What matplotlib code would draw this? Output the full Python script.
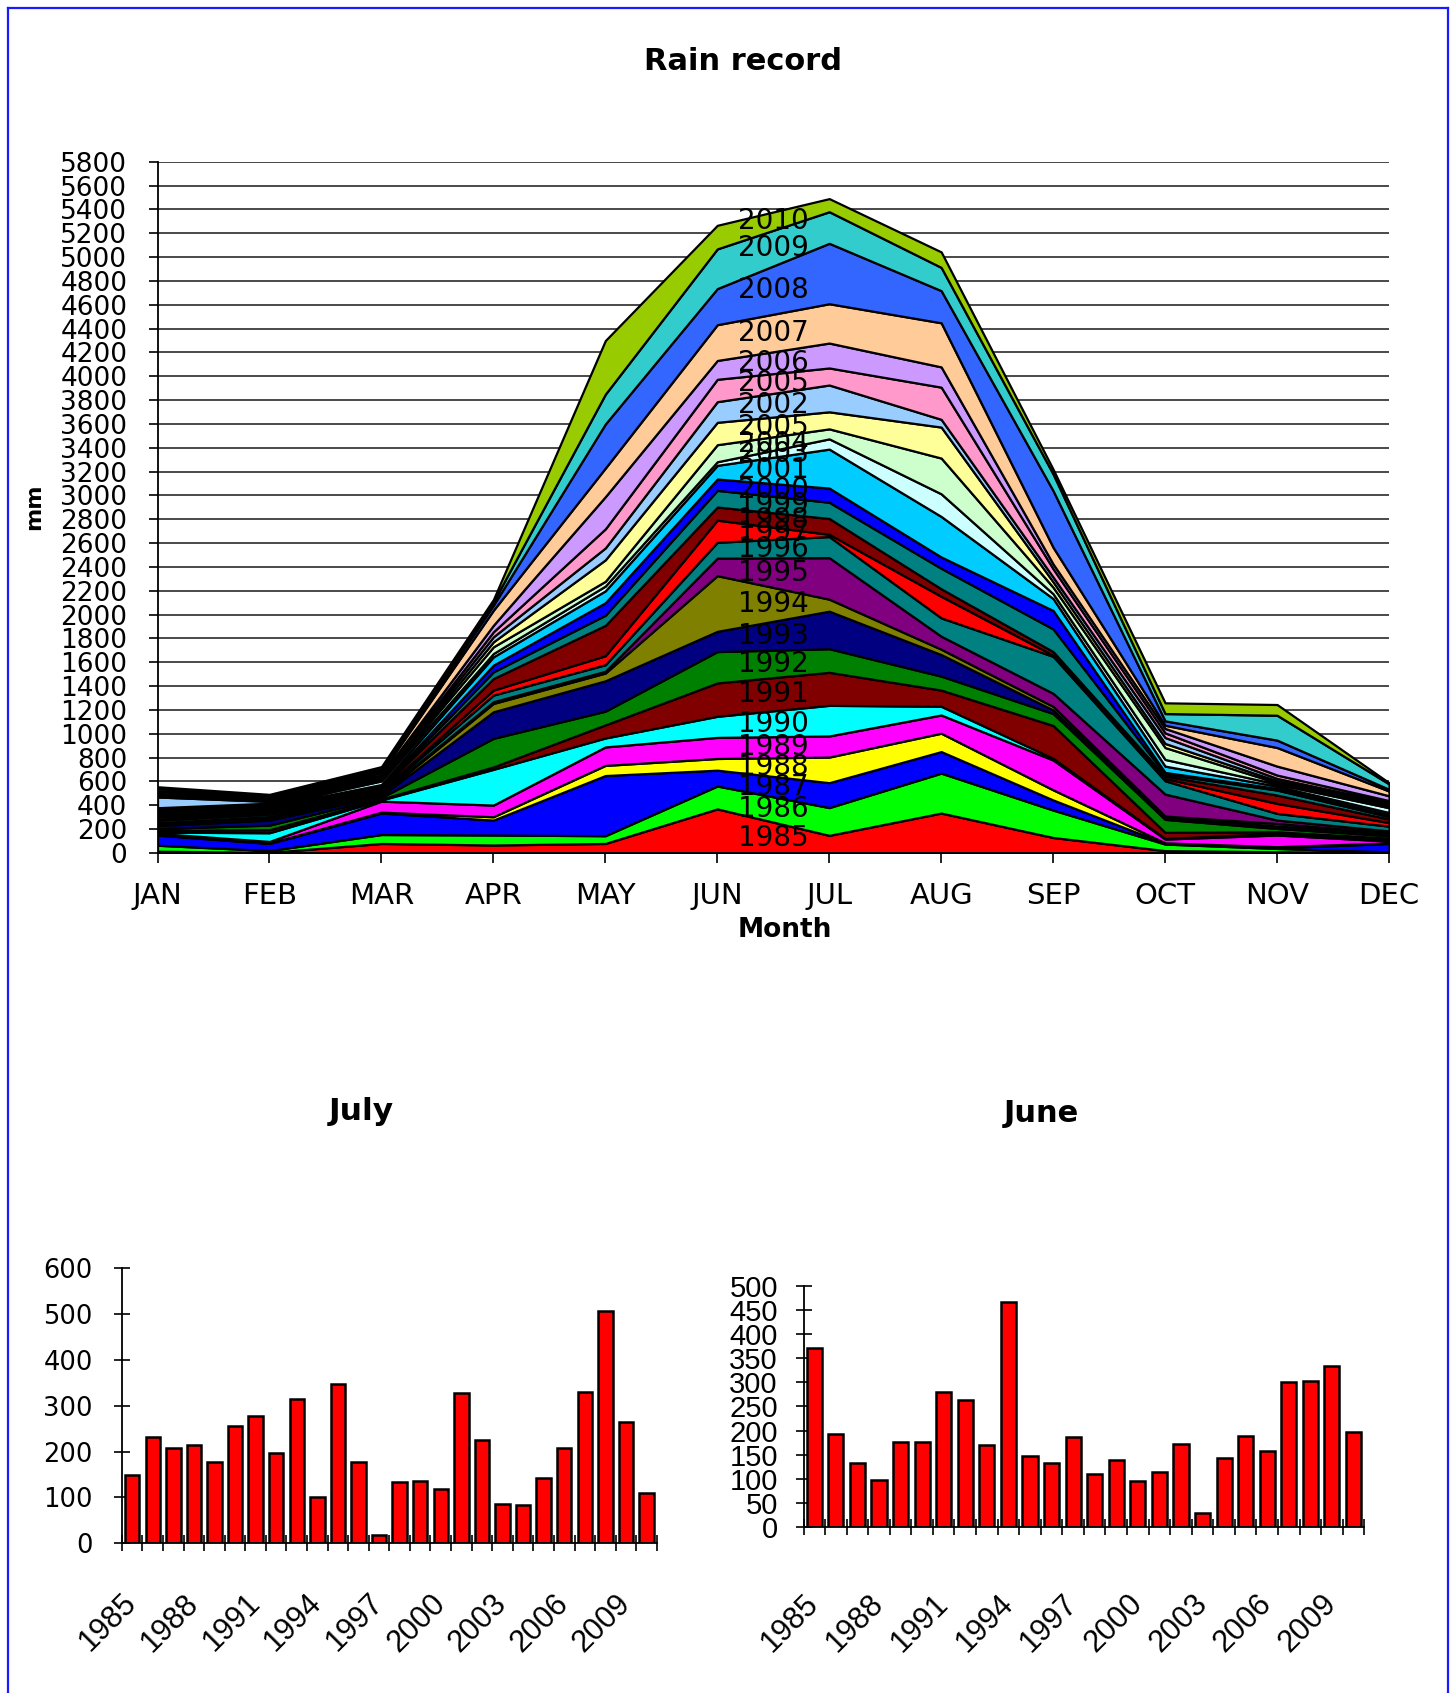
import matplotlib
matplotlib.use('Agg')
import matplotlib.pyplot as plt
import numpy as np
from matplotlib.lines import Line2D

# ---------------- data ----------------
months = ['JAN', 'FEB', 'MAR', 'APR', 'MAY', 'JUN', 'JUL', 'AUG', 'SEP', 'OCT', 'NOV', 'DEC']

series_labels = ['1985', '1986', '1987', '1988', '1989', '1990', '1991', '1992', '1993',
                 '1994', '1995', '1996', '1997', '1998', '1999', '2000', '2001', '2003',
                 '2004', '2005', '2002', '2005', '2006', '2007', '2008', '2009', '2010']

series_colors = ['#FF0000', '#00FF00', '#0000FF', '#FFFF00', '#FF00FF', '#00FFFF', '#800000',
                 '#008000', '#000080', '#808000', '#800080', '#008080', '#FF0000', '#800000',
                 '#008080', '#0000FF', '#00CCFF', '#CCFFFF', '#CCFFCC', '#FFFF99', '#99CCFF',
                 '#FF99CC', '#CC99FF', '#FFCC99', '#3366FF', '#33CCCC', '#99CC00']

# monthly rain (mm) of each stacked series, in series_labels order
jan = [15, 50, 85, 5, 10, 10, 15, 15, 25, 10, 15, 20, 10, 20, 15, 20, 10, 10, 10, 10, 90, 10, 10, 10, 20, 20, 16]
feb = [5, 15, 60, 3, 14, 73, 25, 39, 42, 15, 15, 20, 10, 15, 15, 12, 10, 10, 10, 10, 15, 10, 10, 10, 10, 10, 9]
mar = [80, 75, 180, 8, 92, 10, 8, 12, 15, 10, 10, 15, 10, 15, 10, 10, 15, 30, 10, 10, 10, 10, 10, 20, 15, 15, 20]
apr = [67, 84, 125, 28, 98, 300, 20, 240, 223, 70, 14, 56, 42, 97, 56, 56, 70, 28, 56, 42, 42, 42, 55, 126, 42, 28, 20]
may = [80, 65, 505, 85, 155, 75, 110, 115, 255, 65, 15, 55, 75, 255, 85, 105, 100, 40, 40, 180, 100, 160, 270, 240, 370, 250, 450]
jun = [370, 192, 133, 98, 177, 177, 280, 263, 170, 467, 147, 133, 186, 110, 140, 95, 115, 30, 143, 188, 173, 188, 158, 300, 303, 333, 198]
jul = [148, 233, 209, 215, 177, 257, 277, 198, 315, 101, 348, 177, 19, 133, 136, 119, 327, 86, 84, 143, 225, 143, 209, 330, 507, 265, 110]
aug = [335, 335, 181, 154, 153, 73, 136, 117, 181, 45, 109, 154, 181, 63, 172, 95, 340, 190, 300, 260, 65, 270, 170, 370, 270, 195, 130]
sep = [130, 230, 85, 85, 250, 15, 275, 100, 30, 30, 110, 310, 10, 30, 190, 155, 100, 40, 55, 45, 40, 70, 40, 140, 475, 140, 40]
oct_ = [20, 55, 5, 5, 32, 5, 51, 109, 15, 13, 184, 112, 19, 20, 17, 14, 53, 56, 100, 34, 50, 39, 37, 27, 37, 61, 90]
nov = [10, 28, 5, 10, 98, 14, 13, 28, 21, 21, 28, 56, 84, 70, 42, 14, 19, 17, 11, 17, 20, 28, 75, 156, 62, 209, 90]
dec = [5, 5, 70, 5, 15, 10, 15, 20, 15, 10, 15, 40, 30, 30, 20, 15, 20, 40, 15, 15, 15, 15, 40, 40, 15, 45, 10]

bar_years = [str(y) for y in range(1985, 2011)]
july_rain = [148, 233, 209, 215, 177, 257, 277, 198, 315, 101, 348, 177, 19, 133, 136,
             119, 327, 225, 86, 84, 143, 209, 330, 507, 265, 110]
june_rain = [370, 192, 133, 98, 177, 177, 280, 263, 170, 467, 147, 133, 186, 110, 140,
             95, 115, 173, 30, 143, 188, 158, 300, 303, 333, 198]

# ---------------- figure ----------------
W, H = 1456, 1693
fig = plt.figure(figsize=(W / 100, H / 100), dpi=100)
fig.patch.set_facecolor('white')


def fx(px):
    return px / W


def fy(py):
    return 1 - py / H


# --- main stacked area chart ---
ax = fig.add_axes([fx(157.5), fy(853), fx(1389) - fx(157.5), fy(161.8) - fy(853)])
stack = np.array([jan, feb, mar, apr, may, jun, jul, aug, sep, oct_, nov, dec], dtype=float).T
x = np.arange(len(months))
ax.stackplot(x, stack, colors=series_colors, edgecolor='black', linewidth=1.6, zorder=2)
ax.set_xlim(0, 11)
ax.set_ylim(0, 5800)
ax.set_yticks(np.arange(0, 5801, 200))
ax.set_xticks(x)
ax.set_xticklabels(months)
ax.yaxis.grid(True, color='#3a3a3a', linewidth=1.3, zorder=0)
ax.set_axisbelow(True)
for s in ['top', 'right']:
    ax.spines[s].set_visible(False)
for s in ['left', 'bottom']:
    ax.spines[s].set_linewidth(1.3)
    ax.spines[s].set_zorder(3)
ax.tick_params(axis='y', direction='out', length=6.2, width=1.2, pad=15.5, labelsize=19)
ax.tick_params(axis='x', direction='out', length=7, width=1.2, pad=14, labelsize=21)

# series labels in the middle of each band between JUN and JUL
cum = np.cumsum(stack, axis=0)
base = cum - stack
xm = 5.5
for i, lab in enumerate(series_labels):
    lo = (base[i, 5] + base[i, 6]) / 2
    hi = (cum[i, 5] + cum[i, 6]) / 2
    ax.text(xm, (lo + hi) / 2, lab, ha='center', va='center', fontsize=20,
            color='black', zorder=5)

fig.text(fx(743), fy(61.5), 'Rain record', ha='center', va='center', fontsize=22, fontweight='bold')
fig.text(fx(785), fy(930), 'Month', ha='center', va='center', fontsize=19, fontweight='bold')
fig.text(fx(34.5), fy(507), 'mm', ha='center', va='center', rotation=90, fontsize=16, fontweight='bold')


# --- bar charts ---
def bar_chart(rect, values, ymax, ystep, ylab_size, ylab_family, ypad, xpad):
    a = fig.add_axes(rect)
    pos = np.arange(len(values))
    a.bar(pos, values, width=0.7, color='#FF0000', edgecolor='black', linewidth=1.8, zorder=2)
    a.set_xlim(-0.5, len(values) - 0.5)
    a.set_ylim(0, ymax)
    a.set_yticks(np.arange(0, ymax + 1, ystep))
    for lab in a.get_yticklabels():
        lab.set_family(ylab_family)
    a.tick_params(axis='y', direction='inout', length=12, width=1.2, pad=ypad, labelsize=ylab_size)
    a.set_xticks(np.arange(-0.5, len(values), 1.0), minor=True)
    a.set_xticks(pos[::3])
    a.set_xticklabels([bar_years[i] for i in pos[::3]], rotation=45, ha='right', va='center',
                      rotation_mode='anchor', fontsize=22, family='Liberation Sans')
    a.tick_params(axis='x', which='major', length=0, pad=xpad)
    a.tick_params(axis='x', which='minor', direction='inout', length=12, width=1.2)
    for s in ['top', 'right']:
        a.spines[s].set_visible(False)
    for s in ['left', 'bottom']:
        a.spines[s].set_linewidth(1.3)
    return a


bar_chart([fx(121.9), fy(1543.3), fx(656.8) - fx(121.9), fy(1268.3) - fy(1543.3)],
          july_rain, 600, 100, 18.5, 'DejaVu Sans', 15, 40)
fig.text(fx(361), fy(1111), 'July', ha='center', va='center', fontsize=22.5, fontweight='bold')

bar_chart([fx(803.5), fy(1527.2), fx(1364.3) - fx(803.5), fy(1285.6) - fy(1527.2)],
          june_rain, 500, 50, 21, 'Liberation Sans', 12.5, 52)
fig.text(fx(1041), fy(1114), 'June', ha='center', va='center', fontsize=22, fontweight='bold')

# --- blue frame ---
bc = '#1a1aff'
fig.add_artist(Line2D([fx(7.5), fx(7.5)], [0, fy(7.5)], transform=fig.transFigure, color=bc, lw=1.6))
fig.add_artist(Line2D([fx(7.5), fx(1448)], [fy(7.5), fy(7.5)], transform=fig.transFigure, color=bc, lw=1.6))
fig.add_artist(Line2D([fx(1448), fx(1448)], [0, fy(7.5)], transform=fig.transFigure, color=bc, lw=1.6))

fig.savefig('out.png', dpi=100, facecolor='white')
